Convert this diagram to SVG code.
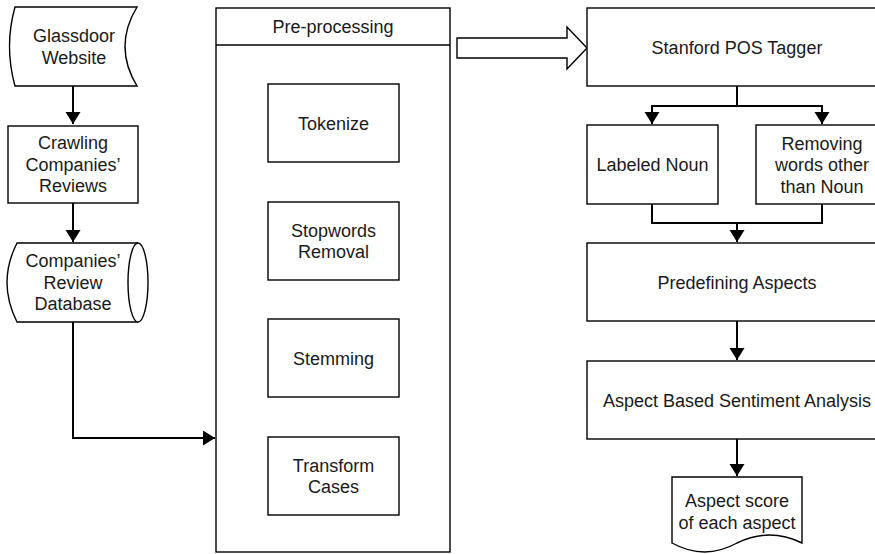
<svg xmlns="http://www.w3.org/2000/svg" width="875" height="554" viewBox="0 0 875 554">
<defs>
<style>
.s{fill:#fff;stroke:#000;stroke-width:1.4}
.c{fill:none;stroke:#000;stroke-width:2}
text{font-family:"Liberation Sans",Arial,sans-serif;font-size:18px;fill:#1a1a1a;text-anchor:middle}
</style>
<marker id="ah" markerUnits="userSpaceOnUse" markerWidth="14" markerHeight="16" refX="12" refY="7.5" orient="auto">
<path d="M0,0 L12,7.5 L0,15 Z" fill="#000"/>
</marker>
</defs>
<rect width="875" height="554" fill="#fff"/>
<g id="connectors">
<path class="c" d="M73,86 V124" marker-end="url(#ah)"/>
<path class="c" d="M73,203 V242" marker-end="url(#ah)"/>
<path class="c" d="M73,322 V438 H215" marker-end="url(#ah)"/>
<path class="c" d="M737,86 V106 H652 V124" marker-end="url(#ah)"/>
<path class="c" d="M737,106 H822 V124" marker-end="url(#ah)"/>
<path class="c" d="M652,204 V223 H822 V204"/>
<path class="c" d="M737,223 V242" marker-end="url(#ah)"/>
<path class="c" d="M737,321 V360" marker-end="url(#ah)"/>
<path class="c" d="M737,439 V476" marker-end="url(#ah)"/>
<polygon class="s" points="457,38 567,38 567,27 587,48 567,69 567,58 457,58"/>
</g>
<g id="glassdoor">
<path class="s" d="M15,7 H137 Q113,46.5 137,86 H15 Q4,46.5 15,7 Z"/>
<text x="74" y="42">Glassdoor</text>
<text x="74" y="63.5">Website</text>
</g>
<g id="crawling">
<rect class="s" x="8" y="126" width="130" height="77"/>
<text x="73" y="149">Crawling</text>
<text x="73" y="170.5">Companies’</text>
<text x="73" y="192">Reviews</text>
</g>
<g id="database">
<path class="s" d="M17,243 H138 A10,39.5 0 0 1 138,322 H17 Q-3,282.5 17,243 Z"/>
<path class="s" d="M138,243 A10,39.5 0 0 0 138,322" fill="none"/>
<text x="73" y="267">Companies’</text>
<text x="73" y="288.5">Review</text>
<text x="73" y="310">Database</text>
</g>
<g id="preprocessing">
<rect class="s" x="216" y="8" width="234" height="544"/>
<line x1="216" y1="45" x2="450" y2="45" stroke="#000" stroke-width="1.4"/>
<text x="333" y="33">Pre-processing</text>
</g>
<g id="tokenize">
<rect class="s" x="268" y="84" width="131" height="78"/>
<text x="333.5" y="129.5">Tokenize</text>
</g>
<g id="stopwords">
<rect class="s" x="268" y="202" width="131" height="78"/>
<text x="333.5" y="236.5">Stopwords</text>
<text x="333.5" y="258">Removal</text>
</g>
<g id="stemming">
<rect class="s" x="268" y="319" width="131" height="78"/>
<text x="333.5" y="364.5">Stemming</text>
</g>
<g id="transform">
<rect class="s" x="268" y="437" width="131" height="78"/>
<text x="333.5" y="471.5">Transform</text>
<text x="333.5" y="493">Cases</text>
</g>
<g id="stanford">
<rect class="s" x="587" y="8" width="300" height="78"/>
<text x="737" y="53.5">Stanford POS Tagger</text>
</g>
<g id="labeled-noun">
<rect class="s" x="587" y="125" width="131" height="79"/>
<text x="652.5" y="171">Labeled Noun</text>
</g>
<g id="removing">
<rect class="s" x="756" y="125" width="132" height="79"/>
<text x="822" y="149.5">Removing</text>
<text x="822" y="171">words other</text>
<text x="822" y="192.5">than Noun</text>
</g>
<g id="predefining">
<rect class="s" x="587" y="243" width="300" height="78"/>
<text x="737" y="288.5">Predefining Aspects</text>
</g>
<g id="absa">
<rect class="s" x="587" y="361" width="300" height="78"/>
<text x="737" y="406.5">Aspect Based Sentiment Analysis</text>
</g>
<g id="aspect-score">
<path class="s" d="M672,477 H802 V543 Q769.5,527 737,543 Q704.5,561 672,543 Z"/>
<text x="737" y="507">Aspect score</text>
<text x="737" y="528.5">of each aspect</text>
</g>
</svg>
